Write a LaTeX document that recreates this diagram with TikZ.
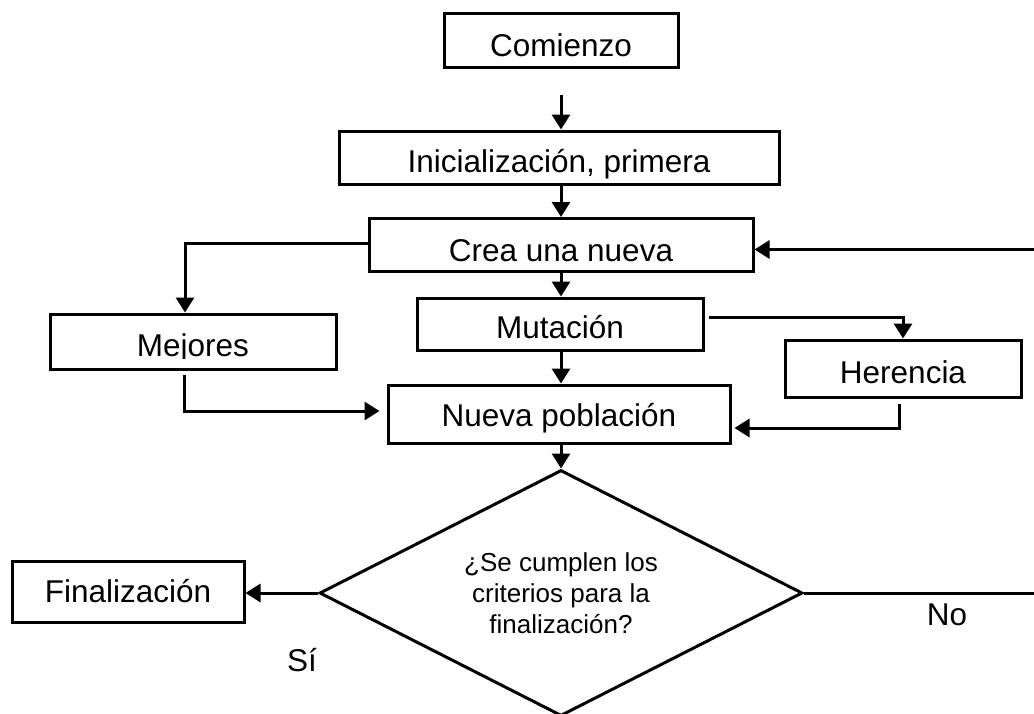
\documentclass[tikz,border=0pt]{standalone}
\usepackage{fontspec}
\setmainfont{Liberation Sans}
\usetikzlibrary{arrows.meta,calc,shapes.geometric}
\newcommand\bxfont{\fontsize{31.5}{37}\selectfont}
\newcommand\dmfont{\fontsize{26}{31}\selectfont}
\begin{document}
\begin{tikzpicture}[x=1pt,y=-1pt,
  box/.style={draw, line width=3pt, inner sep=0pt, font=\bxfont, text height=29.5pt, text depth=0pt},
  txt/.style={inner sep=0pt, font=\bxfont},
  lbl/.style={inner sep=0pt, font=\bxfont, text height=22.5pt, text depth=0pt},
  arr/.style={line width=3pt, -{Triangle[length=15pt,width=18pt]}},
  ln/.style={line width=3pt}]
\useasboundingbox (0,0) rectangle (1034,713);
\fill[white] (0,0) rectangle (1034,713);
\clip (0,0) rectangle (1034,713);

% boxes
\node[box, minimum width=234pt, minimum height=54pt, text height=31.5pt] (com) at (561,40.5) {Comienzo};
\node[box, minimum width=440pt, minimum height=53pt] (ini) at (559,157.5) {};
\begin{scope}
  \clip (339,131) rectangle (779,178);
  \node[txt, anchor=base] (initxt) at (559,172) {Inicialización, primera};
\end{scope}
\node[box, minimum width=384pt, minimum height=53pt, text height=32.5pt] (crea) at (561,245) {Crea una nueva};
\node[box, minimum width=286pt, minimum height=52pt, text height=28.5pt] (mut) at (560,324) {Mutación};
\node[box, minimum width=286pt, minimum height=55pt] (mej) at (193,341.5) {};
\begin{scope}
  \clip (50,314) rectangle (336,358);
  \node[txt, anchor=base] (mejtxt) at (193,356) {Mejores};
\end{scope}
\node[box, minimum width=236pt, minimum height=57pt] (her) at (903,368.5) {Herencia};
\node[box, minimum width=342pt, minimum height=58pt, text height=24.5pt] (nue) at (559,414) {Nueva población};
\node[box, minimum width=232pt, minimum height=61pt, text height=21.5pt] (fin) at (128,591.5) {Finalización};
\node[draw, line width=3pt, diamond, aspect=2, inner sep=0pt,
      minimum width=483pt, minimum height=246pt, font=\dmfont, align=center] (dia) at (561,593)
      {¿Se cumplen los\\criterios para la\\finalización?};

% labels
\node[lbl] (si) at (302,660) {Sí};
\node[lbl] (no) at (947,614) {No};

% connectors
\coordinate (c1) at (561,95);
\draw[arr] (c1) -- (c1 |- ini.north);
\draw[arr] (crea.north |- ini.south) -- (crea.north);
\draw[arr] (crea.south) -- (crea.south |- mut.north);
\draw[arr] (crea.south |- mut.south) -- (crea.south |- nue.north);
\draw[arr] (dia.north |- nue.south) -- (dia.north);
\draw[arr] ([yshift=2pt]crea.west) -| ([xshift=-8pt]mej.north);
\draw[arr] ([shift={(4pt,7pt)}]mut.east) -| (her.north);
\draw[arr] ([shift={(-4pt,-5pt)}]her.south) |- ([shift={(3pt,-14pt)}]nue.east);
\draw[arr] ([shift={(-9pt,-4pt)}]mej.south) |- ([shift={(-7pt,3pt)}]nue.west);
\draw[arr] (dia.west) -- (fin.east |- dia.west);
\coordinate (rc) at (1045,420);
\draw[arr] (dia.east) -| (rc) |- ([yshift=-4.5pt]crea.east);
\end{tikzpicture}
\end{document}
